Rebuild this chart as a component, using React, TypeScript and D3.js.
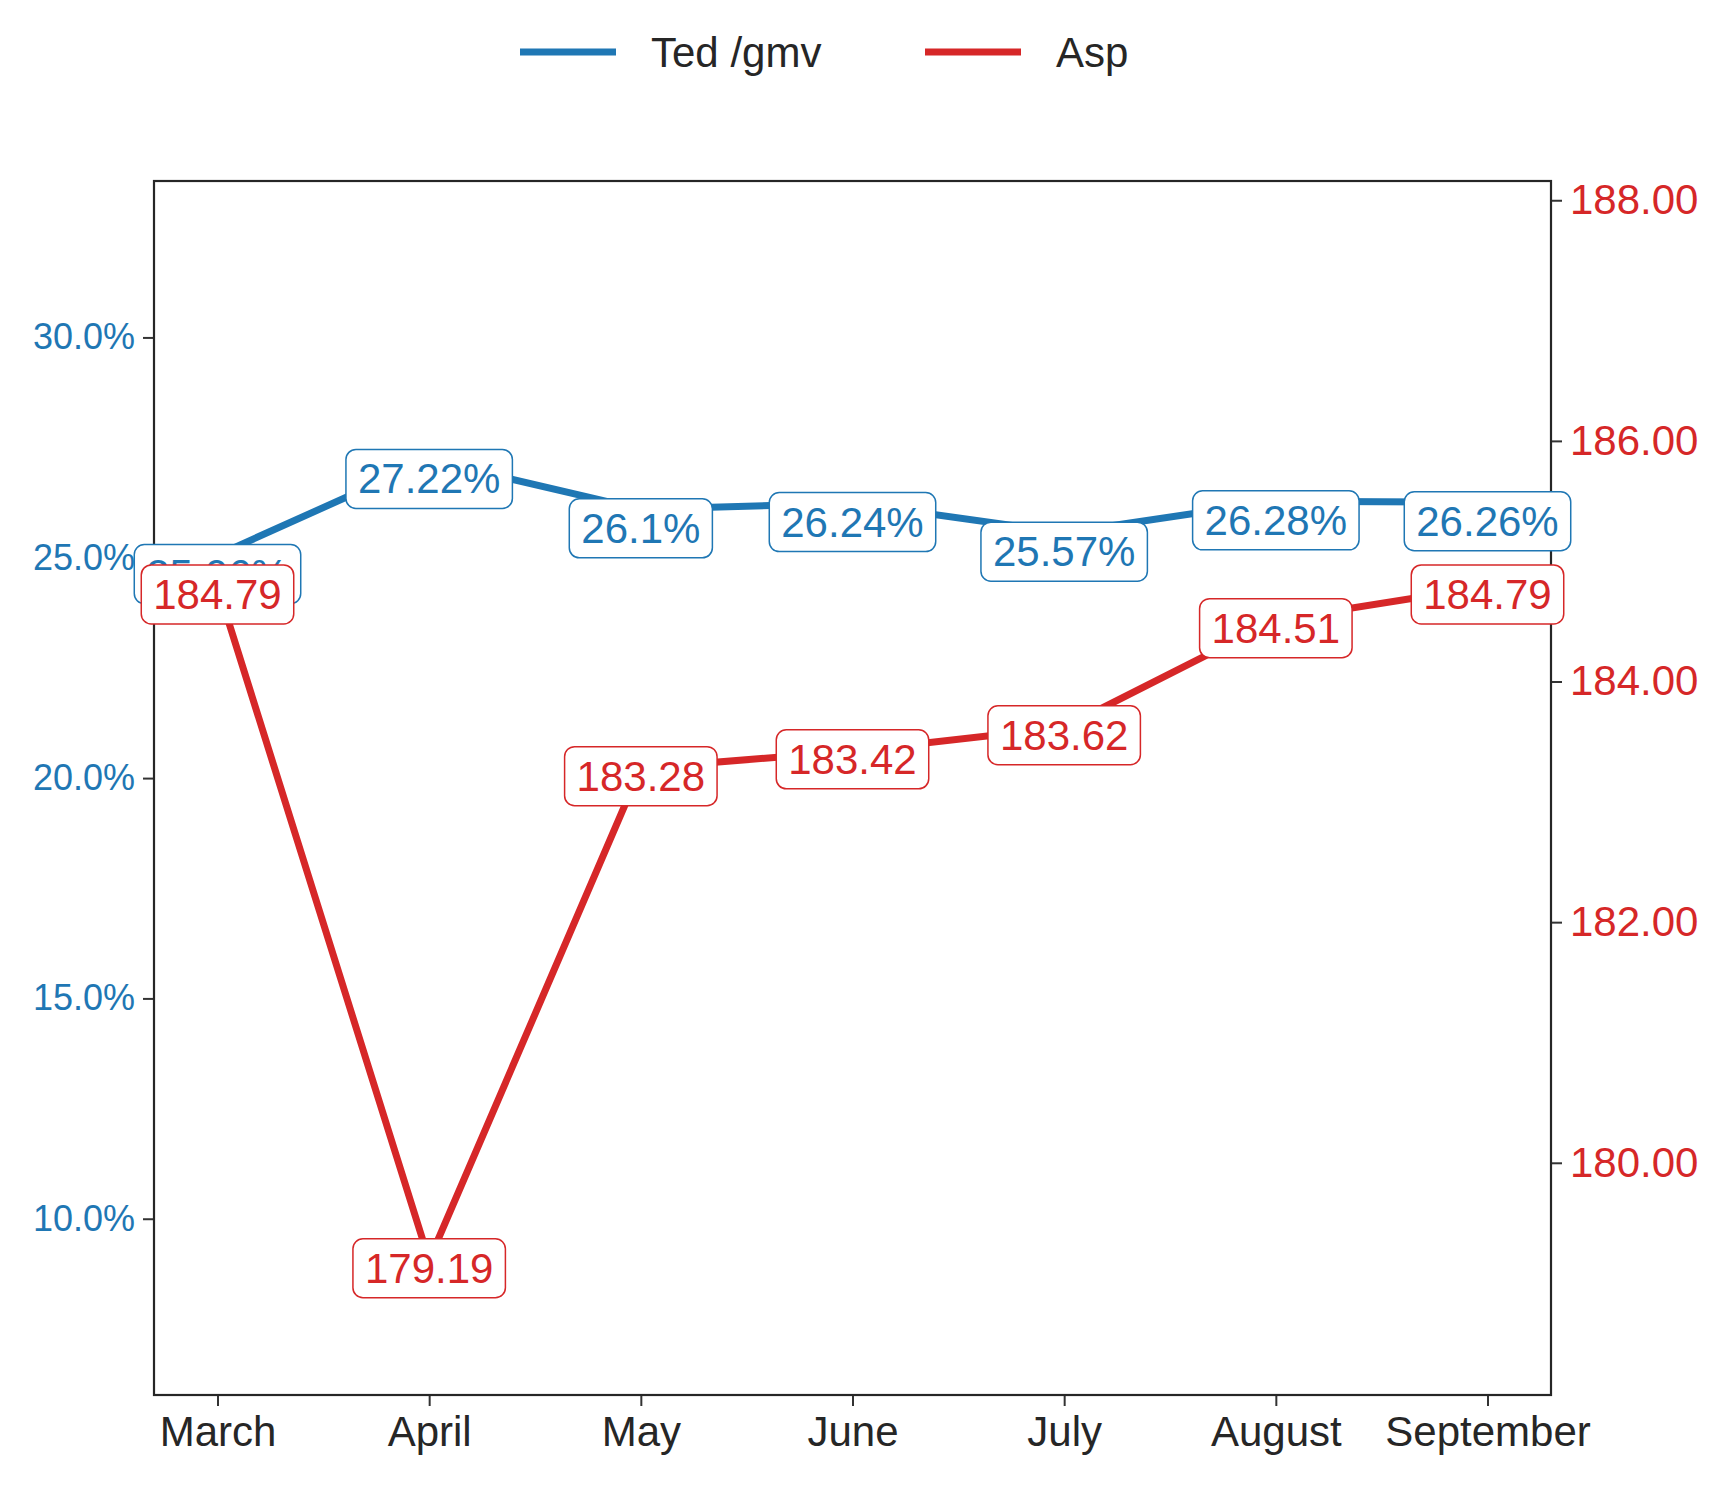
import React, { useEffect, useRef } from "react";
import * as d3 from "d3";

const months = ["March", "April", "May", "June", "July", "August", "September"];
const tedGmv = [25.06, 27.22, 26.1, 26.24, 25.57, 26.28, 26.26];
const tedLabels = ["25.06%", "27.22%", "26.1%", "26.24%", "25.57%", "26.28%", "26.26%"];
const asp = [184.79, 179.19, 183.28, 183.42, 183.62, 184.51, 184.79];
const leftTicks = [10, 15, 20, 25, 30];
const rightTicks = [180, 182, 184, 186, 188];

const BLUE = "#1f77b4";
const RED = "#d62728";
const FONT = "'Liberation Sans', Arial, sans-serif";

const W = 1722, H = 1503;
const m = { left: 154, right: 1551, top: 181, bottom: 1395 };

const App: React.FC = () => {
  const ref = useRef<SVGSVGElement>(null);

  useEffect(() => {
    const svg = d3.select(ref.current);
    svg.selectAll("*").remove();

    const x = d3.scalePoint<string>().domain(months).range([m.left, m.right]).padding(0.3);
    const yL = d3.scaleLinear().domain([6, 33.55]).range([m.bottom, m.top]);
    const yR = d3.scaleLinear().domain([178.07, 188.16]).range([m.bottom, m.top]);

    const gl = svg.append("g").attr("transform", `translate(${m.left},0)`)
      .call(d3.axisLeft(yL).tickValues(leftTicks).tickSize(11).tickPadding(8).tickFormat((d) => `${(+d).toFixed(1)}%`));
    gl.select(".domain").remove();
    gl.selectAll("line").attr("stroke", "#333").attr("stroke-width", 2);
    gl.selectAll("text").attr("fill", BLUE).style("font", `36px ${FONT}`);

    const gr = svg.append("g").attr("transform", `translate(${m.right},0)`)
      .call(d3.axisRight(yR).tickValues(rightTicks).tickSize(11).tickPadding(8).tickFormat((d) => (+d).toFixed(2)));
    gr.select(".domain").remove();
    gr.selectAll("line").attr("stroke", "#333").attr("stroke-width", 2);
    gr.selectAll("text").attr("fill", RED).style("font", `42px ${FONT}`);

    const gx = svg.append("g").attr("transform", `translate(0,${m.bottom})`)
      .call(d3.axisBottom(x).tickSize(11).tickPadding(10));
    gx.select(".domain").remove();
    gx.selectAll("line").attr("stroke", "#333").attr("stroke-width", 2);
    gx.selectAll("text").attr("fill", "#262626").style("font", `42px ${FONT}`);

    svg.append("rect").attr("x", m.left).attr("y", m.top)
      .attr("width", m.right - m.left).attr("height", m.bottom - m.top)
      .attr("fill", "none").attr("stroke", "#262626").attr("stroke-width", 2.2);

    const line = (ys: number[], sc: d3.ScaleLinear<number, number>, color: string) =>
      svg.append("path")
        .attr("d", d3.line<number>().x((_, i) => x(months[i])!).y((d) => sc(d))(ys))
        .attr("fill", "none").attr("stroke", color).attr("stroke-width", 7);
    line(tedGmv, yL, BLUE);
    line(asp, yR, RED);

    const labels = (ys: number[], txt: string[], sc: d3.ScaleLinear<number, number>, color: string, dy: number) => {
      ys.forEach((v, i) => {
        const g = svg.append("g");
        const t = g.append("text").attr("x", x(months[i])!).attr("y", sc(v) + dy)
          .attr("text-anchor", "middle").attr("dominant-baseline", "central")
          .attr("fill", color).style("font", `42px ${FONT}`).text(txt[i]);
        const b = (t.node() as SVGTextElement).getBBox();
        g.insert("rect", "text").attr("x", b.x - 12).attr("y", b.y - 6)
          .attr("width", b.width + 24).attr("height", b.height + 12).attr("rx", 10)
          .attr("fill", "white").attr("stroke", color).attr("stroke-width", 1.5);
      });
    };
    labels(tedGmv, tedLabels, yL, BLUE, 19);
    labels(asp, asp.map((d) => d.toFixed(2)), yR, RED, 8);

    const leg = [{ n: "Ted /gmv", c: BLUE, x: 520 }, { n: "Asp", c: RED, x: 925 }];
    leg.forEach((l) => {
      svg.append("line").attr("x1", l.x).attr("x2", l.x + 96).attr("y1", 52).attr("y2", 52)
        .attr("stroke", l.c).attr("stroke-width", 7);
      svg.append("text").attr("x", l.x + 131).attr("y", 52).attr("dominant-baseline", "central")
        .attr("fill", "#262626").style("font", `42px ${FONT}`).text(l.n);
    });
  }, []);

  return <svg ref={ref} width={W} height={H} style={{ position: "absolute", left: 0, top: 0, background: "white" }} />;
};

export default App;
